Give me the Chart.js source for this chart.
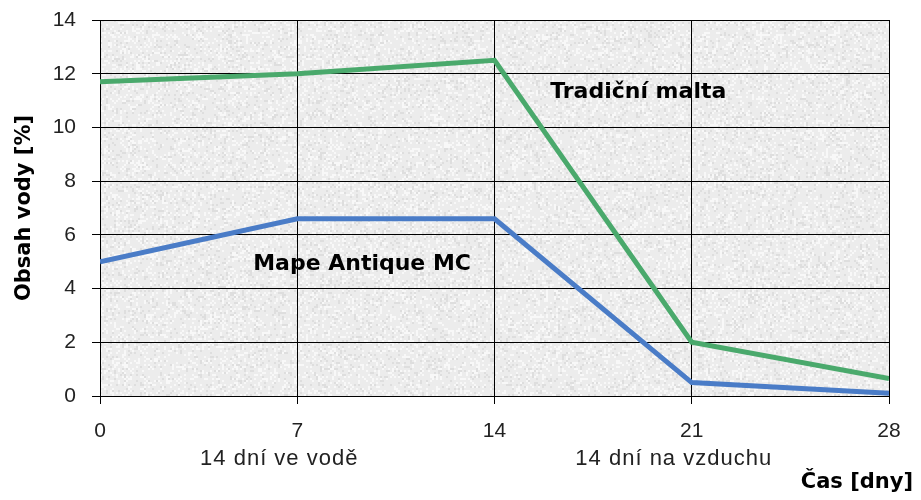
<!DOCTYPE html>
<html><head><meta charset="utf-8">
<script src="https://cdn.jsdelivr.net/npm/chart.js@4/dist/chart.umd.min.js"></script>
<style>html,body{margin:0;padding:0;background:#fff}#wrap{width:921px;height:500px}</style>
</head><body><div id="wrap"><canvas id="c" width="921" height="500"></canvas></div>
<script>
const days = [0, 7, 14, 21, 28];
const tradicniMalta = [11.7, 12.0, 12.5, 2.0, 0.65];
const mapeAntique = [5.0, 6.6, 6.6, 0.5, 0.1];
const yTicks = [0, 2, 4, 6, 8, 10, 12, 14];
const periodLabels = [{x: 7, text: '14 dní ve vodě'}, {x: 21, text: '14 dní na vzduchu'}];
const seriesLabels = [{x: 19.1, y: 11.3, text: 'Tradiční malta'}, {x: 9.3, y: 4.9, text: 'Mape Antique MC'}];
const yTitle = 'Obsah vody [%]';
const xTitle = 'Čas [dny]';

const bgPlugin = {
  id: 'bg',
  beforeDraw(chart) {
    const {ctx, chartArea: a} = chart;
    ctx.save();
    ctx.fillStyle = '#ececec';
    ctx.fillRect(a.left, a.top, a.right - a.left, a.bottom - a.top);
    for (let yy = a.top; yy < a.bottom; yy += 2) {
      for (let xx = a.left; xx < a.right; xx += 2) {
        const h = Math.abs(Math.sin(xx * 12.9898 + yy * 78.233) * 43758.5453) % 1;
        if (h < 0.2) { ctx.fillStyle = '#f8f8f8'; ctx.fillRect(xx, yy, 2, 2); }
        else if (h > 0.88) { ctx.fillStyle = '#dedede'; ctx.fillRect(xx, yy, 2, 2); }
      }
    }
    ctx.restore();
  },
  afterDraw(chart) {
    const {ctx, scales: {x, y}} = chart;
    ctx.save();
    ctx.fillStyle = '#222';
    ctx.font = '22px "Liberation Sans", Arial, sans-serif';
    ctx.letterSpacing = '1px';
    ctx.textAlign = 'center';
    ctx.textBaseline = 'middle';
    periodLabels.forEach(p => ctx.fillText(p.text, x.getPixelForValue(p.x) - 18, 459));
    ctx.letterSpacing = '0px';
    ctx.fillStyle = '#000';
    ctx.font = 'bold 22px "DejaVu Sans", Verdana, sans-serif';
    seriesLabels.forEach(s => ctx.fillText(s.text, x.getPixelForValue(s.x), y.getPixelForValue(s.y)));
    ctx.font = 'bold 21px "DejaVu Sans", Verdana, sans-serif';
    ctx.textAlign = 'right';
    ctx.fillText(xTitle, 913, 483);
    ctx.translate(25, (chart.chartArea.top + chart.chartArea.bottom) / 2);
    ctx.rotate(-Math.PI / 2);
    ctx.textAlign = 'center';
    ctx.fillText(yTitle, 0, 0);
    ctx.restore();
  }
};

new Chart(document.getElementById('c'), {
  type: 'line',
  data: {
    datasets: [
      {label: 'Tradiční malta', data: days.map((d, i) => ({x: d, y: tradicniMalta[i]})), borderColor: '#4aa96c', borderWidth: 5, pointRadius: 0, tension: 0},
      {label: 'Mape Antique MC', data: days.map((d, i) => ({x: d, y: mapeAntique[i]})), borderColor: '#4a7cc7', borderWidth: 5, pointRadius: 0, tension: 0}
    ]
  },
  options: {
    responsive: false,
    animation: false,
    layout: {padding: {top: 20, right: 32, left: 0, bottom: 0}},
    plugins: {legend: {display: false}, tooltip: {enabled: false}},
    scales: {
      x: {
        type: 'linear', min: 0, max: 28,
        afterBuildTicks: s => { s.ticks = days.map(v => ({value: v})); },
        afterFit: s => { s.height = 104; s.paddingLeft = 0; s.paddingRight = 0; },
        grid: {color: '#000', tickColor: '#000', tickLength: 8, lineWidth: 1},
        border: {color: '#000'},
        ticks: {color: '#222', font: {size: 21, family: '"Liberation Sans", Arial, sans-serif'}, padding: 15, maxRotation: 0}
      },
      y: {
        min: 0, max: 14,
        afterBuildTicks: s => { s.ticks = yTicks.map(v => ({value: v})); },
        afterFit: s => { s.width = 100; s.paddingTop = 0; s.paddingBottom = 0; },
        grid: {color: '#000', tickColor: '#000', tickLength: 8, lineWidth: 1},
        border: {color: '#000'},
        ticks: {color: '#222', font: {size: 21, family: '"Liberation Sans", Arial, sans-serif'}, padding: 16}
      }
    }
  },
  plugins: [bgPlugin]
});
</script></body></html>
